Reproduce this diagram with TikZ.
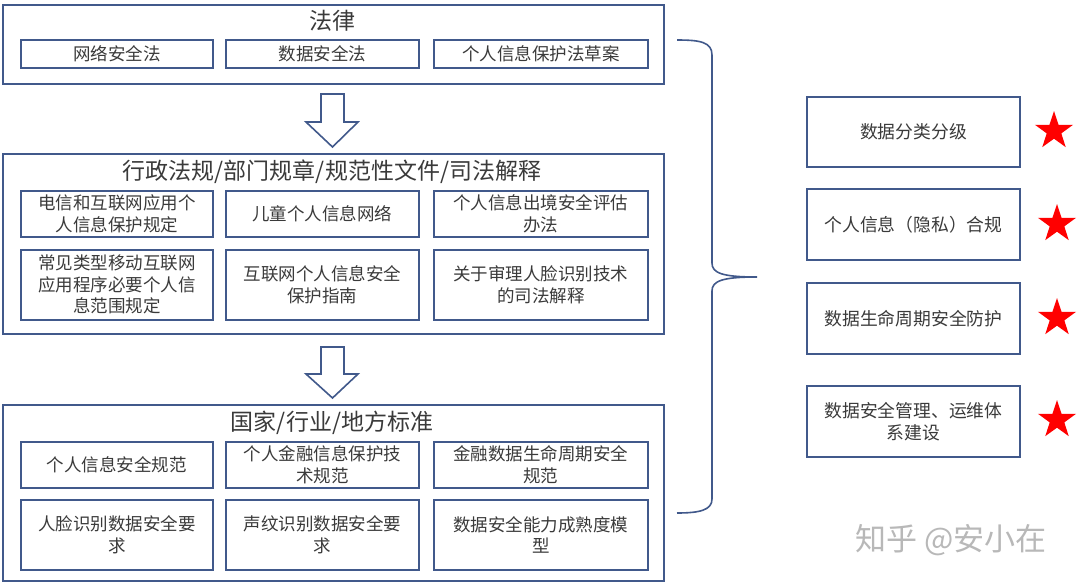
\documentclass[tikz,border=0pt]{standalone}
\usepackage{fontspec}
\setmainfont{Noto Sans CJK SC}
\usetikzlibrary{shapes.geometric}
\definecolor{bline}{HTML}{41598B}
\definecolor{txt}{HTML}{3A3A3A}
\begin{document}
\begin{tikzpicture}[x=1pt,y=-1pt,
  outerbox/.style={draw=bline,line width=1.8pt},
  subbox/.style={draw=bline,line width=1.6pt,text=txt,font=\fontsize{17.5}{21.5}\selectfont,align=center,inner sep=0pt},
  titletext/.style={text=txt,font=\fontsize{23}{26}\selectfont,inner sep=0pt},
  rightbox/.style={draw=bline,line width=1.8pt,text=txt,font=\fontsize{17.8}{22}\selectfont,align=center,inner sep=0pt},
  blockarrow/.style={draw=bline,line width=1.6pt,fill=white,line join=miter},
  staricon/.style={star,star points=5,star point ratio=2.6,fill=red,draw=none,minimum size=40pt,inner sep=0pt},
  bracepath/.style={draw=bline,line width=1.6pt}]
\useasboundingbox (0,0) rectangle (1080,584);
\fill[white] (0,0) rectangle (1080,584);

% ---------- box 1 ----------
\node[outerbox,minimum width=661pt,minimum height=79pt,anchor=north west] (law) at (2,4) {};
\node[titletext] (lawt) at (332,21) {法律};
\node[subbox,minimum width=192pt,minimum height=28pt,anchor=north west] (l1) at (20,39) {网络安全法};
\node[subbox,minimum width=193pt,minimum height=28pt,anchor=north west] (l2) at (225,39) {数据安全法};
\node[subbox,minimum width=214pt,minimum height=28pt,anchor=north west] (l3) at (433,39) {个人信息保护法草案};

% ---------- arrow 1 ----------
\draw[blockarrow] (321,94) -- (344,94) -- (344,122) -- (358,122) -- (332.5,147) -- (306,122) -- (321,122) -- cycle;

% ---------- box 2 ----------
\node[outerbox,minimum width=661pt,minimum height=180pt,anchor=north west] (reg) at (2,153) {};
\node[titletext] (regt) at (332,172) {行政法规/部门规章/规范性文件/司法解释};
\node[subbox,minimum width=192pt,minimum height=46pt,anchor=north west] (r1) at (20,190) {电信和互联网应用个\\人信息保护规定};
\node[subbox,minimum width=193pt,minimum height=46pt,anchor=north west] (r2) at (225,190) {儿童个人信息网络};
\node[subbox,minimum width=214pt,minimum height=46pt,anchor=north west] (r3) at (433,190) {个人信息出境安全评估\\办法};
\node[subbox,minimum width=192pt,minimum height=70pt,anchor=north west] (r4) at (20,249) {常见类型移动互联网\\应用程序必要个人信\\息范围规定};
\node[subbox,minimum width=193pt,minimum height=70pt,anchor=north west] (r5) at (225,249) {互联网个人信息安全\\保护指南};
\node[subbox,minimum width=214pt,minimum height=70pt,anchor=north west] (r6) at (433,249) {关于审理人脸识别技术\\的司法解释};

% ---------- arrow 2 ----------
\draw[blockarrow] (321,347) -- (344,347) -- (344,374) -- (358,374) -- (332.5,398) -- (306,374) -- (321,374) -- cycle;

% ---------- box 3 ----------
\node[outerbox,minimum width=661pt,minimum height=176pt,anchor=north west] (std) at (2,404) {};
\node[titletext] (stdt) at (332,423) {国家/行业/地方标准};
\node[subbox,minimum width=192pt,minimum height=46pt,anchor=north west] (s1) at (20,441) {个人信息安全规范};
\node[subbox,minimum width=193pt,minimum height=46pt,anchor=north west] (s2) at (225,441) {个人金融信息保护技\\术规范};
\node[subbox,minimum width=214pt,minimum height=46pt,anchor=north west] (s3) at (433,441) {金融数据生命周期安全\\规范};
\node[subbox,minimum width=192pt,minimum height=70pt,anchor=north west] (s4) at (20,499) {人脸识别数据安全要\\求};
\node[subbox,minimum width=193pt,minimum height=70pt,anchor=north west] (s5) at (225,499) {声纹识别数据安全要\\求};
\node[subbox,minimum width=214pt,minimum height=70pt,anchor=north west] (s6) at (433,499) {数据安全能力成熟度模\\型};

% ---------- brace ----------
\coordinate (btop) at (677,40);
\coordinate (btip) at (757,277);
\coordinate (bbot) at (677,513);
\draw[bracepath] (btop) .. controls (700,40) and (712,42) .. (712,55) -- (712,263)
  .. controls (712,273) and (722,277) .. (btip)
  .. controls (722,277) and (712,281) .. (712,291) -- (712,499)
  .. controls (712,510) and (700,513) .. (bbot);

% ---------- right boxes ----------
\node[rightbox,minimum width=213pt,minimum height=70pt,anchor=north west] (k1) at (806,96) {数据分类分级};
\node[rightbox,minimum width=213pt,minimum height=71pt,anchor=north west] (k2) at (806,188) {个人信息（隐私）合规};
\node[rightbox,minimum width=213pt,minimum height=71pt,anchor=north west] (k3) at (806,282) {数据生命周期安全防护};
\node[rightbox,minimum width=213pt,minimum height=71pt,anchor=north west] (k4) at (806,385) {数据安全管理、运维体\\系建设};

\node[staricon] (st1) at (1054,131) {};
\node[staricon] (st2) at (1057,224) {};
\node[staricon] (st3) at (1057,318) {};
\node[staricon] (st4) at (1057,420) {};

% ---------- watermark ----------
\node[text=black!28,font=\fontsize{31}{34}\selectfont,inner sep=0pt] (wm) at (951,540) {知乎 @安小在};
\end{tikzpicture}
\end{document}
